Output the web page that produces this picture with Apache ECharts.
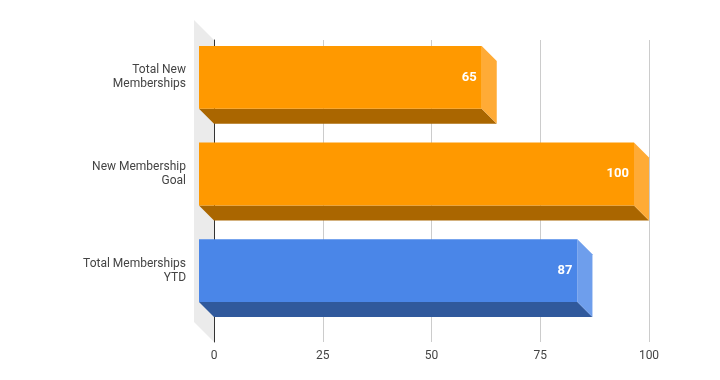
<!DOCTYPE html>
<html><head><meta charset="utf-8">
<script src="https://cdn.jsdelivr.net/npm/echarts@6/dist/echarts.min.js"></script>
<style>html,body{margin:0;padding:0;background:#fff}#c{width:720px;height:380px}</style>
</head><body><div id="c"></div>
<script>
var categories = ['Total New\nMemberships', 'New Membership\nGoal', 'Total Memberships\nYTD'];
var values = [65, 100, 87];
var frontColors = ['#ff9900', '#ff9900', '#4a86e8'];
var sideColors = ['#ffab36', '#ffab36', '#6e9eec'];
var bottomColors = ['#aa6600', '#aa6600', '#30599c'];
var tickMin = 0, tickMax = 100, tickStep = 25;

var chart = echarts.init(document.getElementById('c'), null, {renderer: 'canvas'});
var D = 15;
chart.setOption({
  animation: false,
  textStyle: {fontFamily: 'Roboto'},
  graphic: [{
    type: 'polygon', z: 0, silent: true,
    shape: {points: [[194, 20], [214, 40], [214, 342], [194, 322]]},
    style: {fill: '#ebebeb'}
  }],
  grid: [
    {left: 214, right: 71, top: 40, bottom: 38},
    {left: 199, right: 86, top: 29, bottom: 61}
  ],
  xAxis: [
    {gridIndex: 0, type: 'value', min: tickMin, max: tickMax, interval: tickStep,
      axisLine: {show: false}, axisTick: {show: false},
      axisLabel: {color: '#444', fontSize: 12, margin: 8},
      splitLine: {lineStyle: {color: '#cccccc', width: 1}}},
    {gridIndex: 1, type: 'value', min: tickMin, max: tickMax, interval: tickStep, show: false,
      splitLine: {show: false}}
  ],
  yAxis: [
    {gridIndex: 0, type: 'category', data: categories, inverse: true,
      axisLine: {show: true, lineStyle: {color: '#333', width: 1}},
      axisTick: {show: false}, axisLabel: {show: false}},
    {gridIndex: 1, type: 'category', data: categories, inverse: true,
      axisLine: {show: false}, axisTick: {show: false},
      axisLabel: {color: '#444', fontSize: 12, margin: 13, lineHeight: 14, align: 'right'}}
  ],
  series: [{
    type: 'custom', xAxisIndex: 1, yAxisIndex: 1, z: 5,
    data: values.map(function (v, i) { return [v, i]; }),
    renderItem: function (params, api) {
      var i = api.value(1), v = api.value(0);
      var p0 = api.coord([0, i]);
      var p1 = api.coord([v, i]);
      var h = api.size([0, 1])[1] * 0.65;
      var x0 = p0[0], x1 = p1[0], y0 = p0[1] - h / 2, y1 = p0[1] + h / 2;
      return {type: 'group', children: [
        {type: 'polygon', shape: {points: [[x0, y1], [x1, y1], [x1 + D, y1 + D], [x0 + D, y1 + D]]},
          style: {fill: bottomColors[i]}},
        {type: 'polygon', shape: {points: [[x1, y0], [x1 + D, y0 + D], [x1 + D, y1 + D], [x1, y1]]},
          style: {fill: sideColors[i]}},
        {type: 'rect', shape: {x: x0, y: y0, width: x1 - x0, height: h},
          style: {fill: frontColors[i]}},
        {type: 'text', style: {x: x1 - 5, y: p0[1], text: String(v), fill: '#fff',
          font: 'bold 13px Roboto', align: 'right', verticalAlign: 'middle'}}
      ]};
    }
  }]
});
</script></body></html>
